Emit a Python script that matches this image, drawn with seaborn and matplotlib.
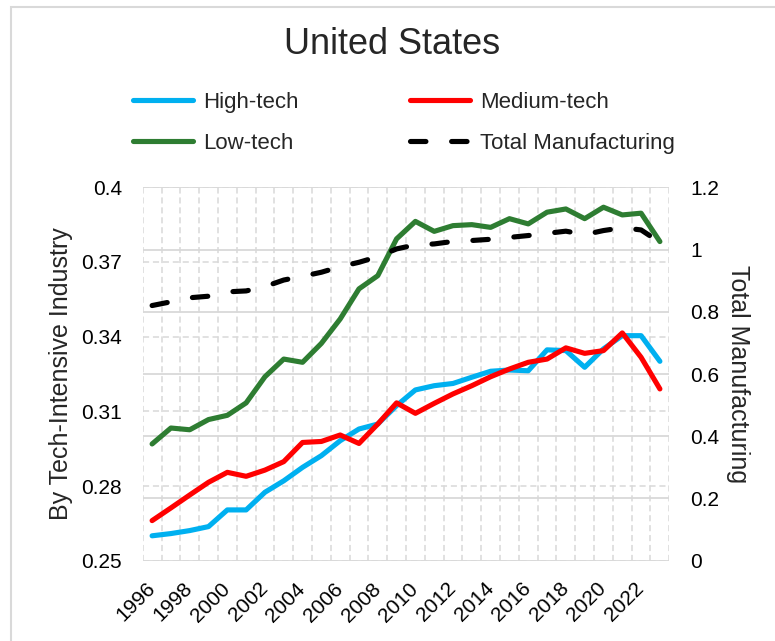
import matplotlib
matplotlib.use("Agg")
import matplotlib.pyplot as plt
import seaborn as sns
import pandas as pd
from matplotlib.patches import Rectangle

# ---------------- data ----------------
years = list(range(1996, 2024))
high_tech = [0.2600, 0.2609, 0.2621, 0.2637, 0.2704, 0.2704, 0.2775, 0.2821, 0.2875, 0.2922,
             0.2982, 0.3029, 0.3049, 0.3123, 0.3186, 0.3203, 0.3212, 0.3237, 0.3261, 0.3266,
             0.3263, 0.3347, 0.3344, 0.3277, 0.3351, 0.3404, 0.3404, 0.3301]
medium_tech = [0.2661, 0.2712, 0.2764, 0.2815, 0.2855, 0.2839, 0.2864, 0.2898, 0.2975, 0.2979,
               0.3005, 0.2971, 0.3049, 0.3134, 0.3092, 0.3132, 0.3170, 0.3203, 0.3239, 0.3270,
               0.3297, 0.3310, 0.3355, 0.3333, 0.3344, 0.3415, 0.3317, 0.3190]
low_tech = [0.2969, 0.3033, 0.3026, 0.3067, 0.3084, 0.3134, 0.3239, 0.3310, 0.3297, 0.3373,
            0.3471, 0.3592, 0.3645, 0.3793, 0.3863, 0.3823, 0.3846, 0.3850, 0.3839, 0.3874,
            0.3853, 0.3900, 0.3913, 0.3874, 0.3920, 0.3889, 0.3896, 0.3782]
total_manufacturing = [0.820, 0.832, 0.845, 0.850, 0.864, 0.867, 0.881, 0.902, 0.914, 0.927,
                       0.945, 0.959, 0.977, 1.002, 1.015, 1.018, 1.026, 1.029, 1.033, 1.039,
                       1.045, 1.052, 1.059, 1.048, 1.061, 1.070, 1.063, 1.023]

series_names = ["High-tech", "Medium-tech", "Low-tech"]
total_name = "Total Manufacturing"
title = "United States"
left_label = "By Tech-Intensive Industry"
right_label = "Total Manufacturing"
left_ticks = [0.25, 0.28, 0.31, 0.34, 0.37, 0.40]
left_ticklabels = ["0.25", "0.28", "0.31", "0.34", "0.37", "0.4"]
right_ticks = [0.0, 0.2, 0.4, 0.6, 0.8, 1.0, 1.2]
right_ticklabels = ["0", "0.2", "0.4", "0.6", "0.8", "1", "1.2"]
x_ticklabel_years = list(range(1996, 2023, 2))

colors = {"High-tech": "#00B0F0", "Medium-tech": "#FF0000", "Low-tech": "#2E7D32"}

# ---------------- styling ----------------
sns.set_style("white")
plt.rcParams["font.family"] = ["Liberation Sans", "DejaVu Sans"]

df = pd.DataFrame({
    "year": years * 3,
    "value": high_tech + medium_tech + low_tech,
    "series": [series_names[0]] * len(years) + [series_names[1]] * len(years)
              + [series_names[2]] * len(years),
})
df_total = pd.DataFrame({"year": years, "value": total_manufacturing})

fig = plt.figure(figsize=(7.75, 6.41), dpi=100)
W, H = 775, 641
x0, x1, ytop, ybot = 142.7, 669.3, 187.3, 560.7
ax = fig.add_axes([x0 / W, 1 - ybot / H, (x1 - x0) / W, (ybot - ytop) / H])

grid_c = "#D9D9D9"

sns.lineplot(data=df, x="year", y="value", hue="series", hue_order=series_names,
             palette=colors, lw=3.7, ax=ax, legend=False,
             solid_capstyle="round", solid_joinstyle="round", zorder=3)

ax.set_xlim(years[0] - 0.5, years[-1] + 0.5)
ax.set_ylim(left_ticks[0], left_ticks[-1])
ax.set_yticks(left_ticks)
ax.set_yticklabels(left_ticklabels)
ax.set_xticks(x_ticklabel_years)
ax.set_xticklabels([str(y) for y in x_ticklabel_years], rotation=45, ha="right",
                   va="center", rotation_mode="anchor")
ax.set_xticks([y - 0.5 for y in years] + [years[-1] + 0.5], minor=True)
ax.tick_params(axis="both", which="both", length=0, labelsize=15, colors="black")
ax.tick_params(axis="y", pad=15)
ax.tick_params(axis="x", pad=18)
for s in ax.spines.values():
    s.set_visible(False)
ax.set_axisbelow(True)
ax.xaxis.grid(True, which="minor", color=grid_c, lw=1.1, linestyle=(0, (4, 2.5)))
ax.xaxis.grid(False, which="major")
ax.yaxis.grid(True, which="major", color=grid_c, lw=1.1, linestyle=(0, (4, 2.5)))
# solid grid lines belonging to the secondary axis (drawn behind the series)
lo, hi = left_ticks[0], left_ticks[-1]
for v in right_ticks:
    ax.axhline(lo + v / right_ticks[-1] * (hi - lo), color=grid_c, lw=1.3, zorder=0.5)
ax.set_xlabel("")
ax.set_ylabel(left_label, fontsize=18, labelpad=6)

ax2 = ax.twinx()
sns.lineplot(data=df_total, x="year", y="value", color="black", lw=3.7, ax=ax2,
             linestyle=(0, (3, 5)), dash_capstyle="round", legend=False)
ax2.set_ylim(right_ticks[0], right_ticks[-1])
ax2.set_yticks(right_ticks)
ax2.set_yticklabels(right_ticklabels)
ax2.tick_params(axis="y", length=0, labelsize=15, pad=15, colors="black")
for s in ax2.spines.values():
    s.set_visible(False)
ax2.grid(False)
ax2.set_ylabel(right_label, fontsize=18, rotation=270, labelpad=22)

# legend
h_lines = ax.get_lines()[:3]
handles = [h_lines[0], h_lines[2], h_lines[1], ax2.get_lines()[0]]
labels = [series_names[0], series_names[2], series_names[1], total_name]
fig.legend(handles, labels, ncol=2, loc="center", bbox_to_anchor=(404 / W, 1 - 123 / H),
           frameon=False, fontsize=16, handlelength=2.7, handletextpad=0.45,
           columnspacing=5.0, labelspacing=0.9)

fig.text(392 / W, 1 - 45 / H, title, ha="center", va="center", fontsize=26)

fig.patches.append(Rectangle((11 / W, -0.05), 1.2, 1 - 7 / H + 0.05,
                             transform=fig.transFigure, fill=False,
                             edgecolor="#D9D9D9", lw=1.5))

fig.savefig("out.png", dpi=100)
